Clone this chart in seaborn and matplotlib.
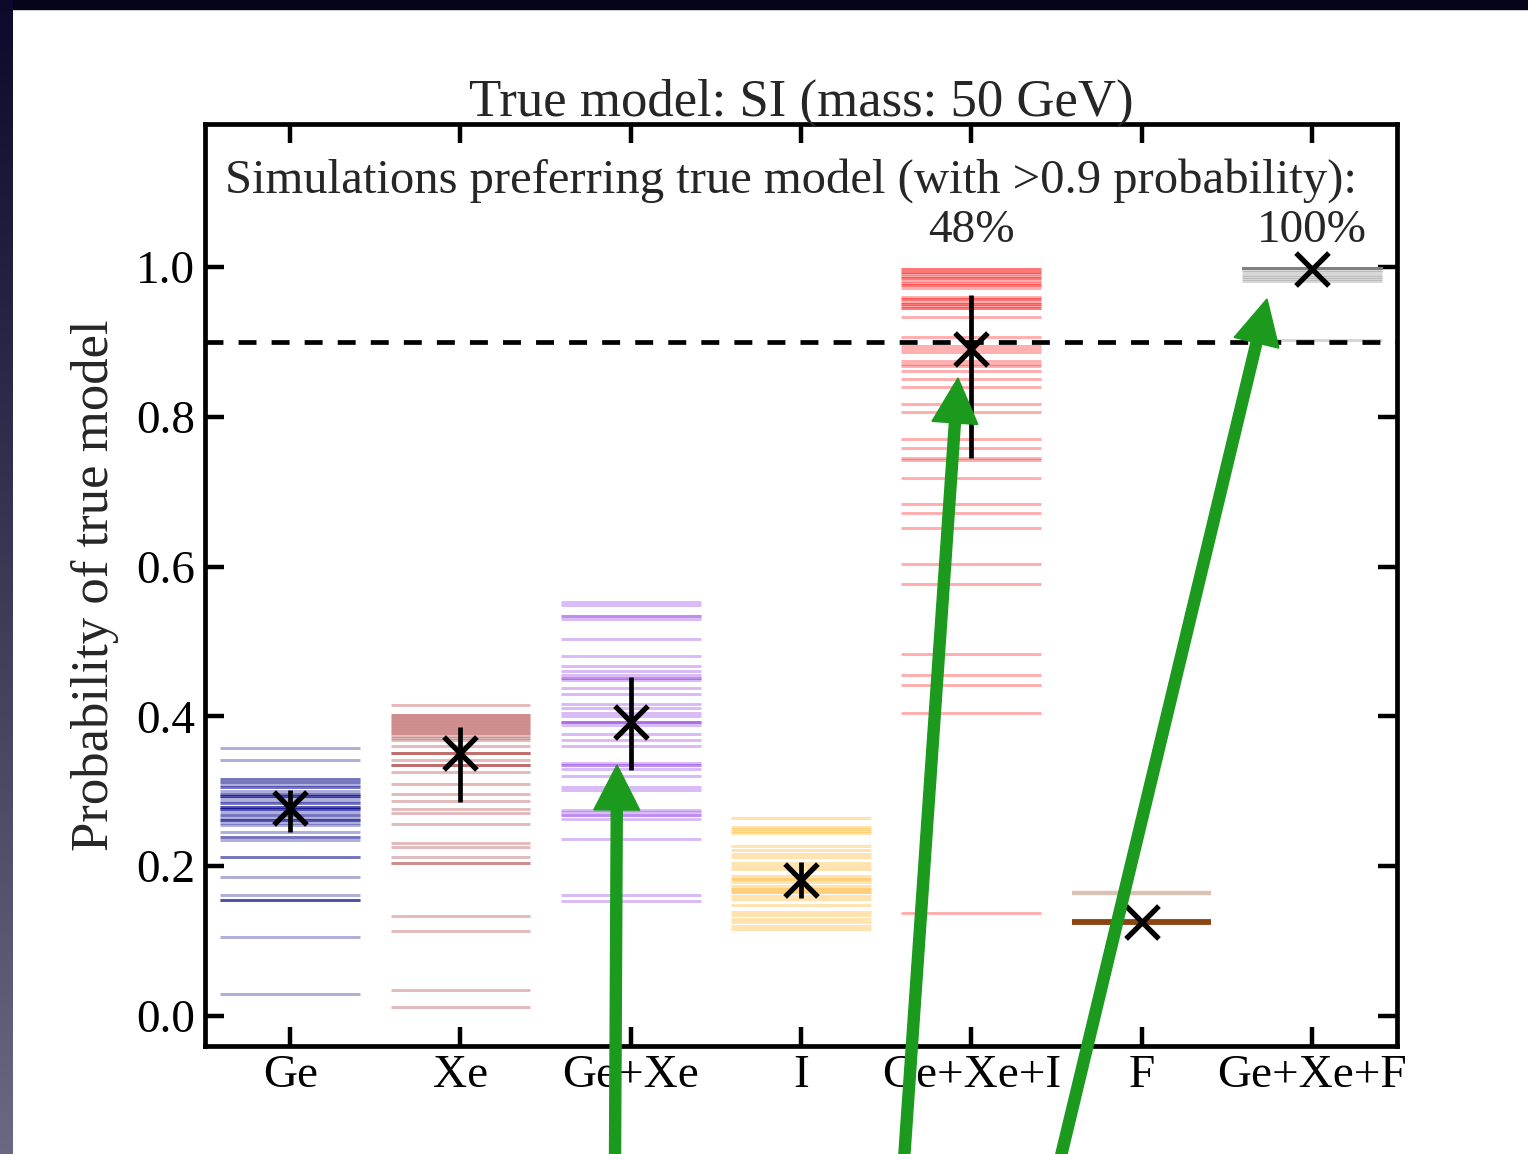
import numpy as np
import pandas as pd
import matplotlib
matplotlib.use("Agg")
import matplotlib.pyplot as plt
from matplotlib.patches import Rectangle, FancyArrow
import seaborn as sns

# ---------------- data ----------------
categories = ["Ge", "Xe", "Ge+Xe", "I", "Ge+Xe+I", "F", "Ge+Xe+F"]
colors = ["darkblue", "brown", "blueviolet", "orange", "red", "saddlebrown", "grey"]

ge_vals = [0.358, 0.342, 0.316, 0.316, 0.313, 0.313, 0.308, 0.306, 0.306, 0.300,
           0.297, 0.297, 0.294, 0.294, 0.294, 0.291, 0.287, 0.284, 0.284, 0.279,
           0.279, 0.279, 0.276, 0.276, 0.276, 0.273, 0.268, 0.268, 0.265, 0.262,
           0.262, 0.262, 0.258, 0.255, 0.246, 0.239, 0.239, 0.235, 0.213, 0.213,
           0.185, 0.161, 0.155, 0.155, 0.155, 0.106, 0.030]
xe_vals = [0.415, 0.402, 0.402, 0.398, 0.398, 0.394, 0.394, 0.390, 0.390, 0.386,
           0.386, 0.382, 0.382, 0.378, 0.378, 0.374, 0.371, 0.368, 0.360, 0.351,
           0.351, 0.351, 0.342, 0.335, 0.335, 0.335, 0.326, 0.310, 0.296, 0.287,
           0.276, 0.271, 0.257, 0.231, 0.226, 0.213, 0.204, 0.204, 0.134, 0.113,
           0.035, 0.012]
gexe_vals = [0.553, 0.549, 0.534, 0.534, 0.530, 0.503, 0.481, 0.468, 0.461, 0.455,
             0.451, 0.451, 0.448, 0.438, 0.430, 0.416, 0.411, 0.404, 0.401, 0.392,
             0.392, 0.392, 0.389, 0.377, 0.369, 0.360, 0.338, 0.335, 0.335, 0.330,
             0.320, 0.306, 0.302, 0.275, 0.272, 0.268, 0.268, 0.263, 0.237, 0.162,
             0.154]
i_vals = [0.264, 0.253, 0.250, 0.247, 0.244, 0.227, 0.222, 0.217, 0.213, 0.204,
          0.200, 0.196, 0.187, 0.183, 0.183, 0.179, 0.173, 0.169, 0.169, 0.165,
          0.165, 0.160, 0.156, 0.148, 0.139, 0.135, 0.130, 0.125, 0.120, 0.116]
gexei_vals = [0.997, 0.997, 0.994, 0.994, 0.991, 0.988, 0.985, 0.985, 0.982, 0.979,
              0.976, 0.976, 0.972, 0.960, 0.957, 0.957, 0.954, 0.951, 0.951, 0.948,
              0.945, 0.945, 0.933, 0.906, 0.894, 0.890, 0.887, 0.874, 0.871, 0.868,
              0.861, 0.850, 0.840, 0.817, 0.807, 0.770, 0.758, 0.745, 0.742, 0.719,
              0.684, 0.672, 0.651, 0.604, 0.577, 0.483, 0.455, 0.442, 0.404, 0.137]
f_vals = [0.164] + [0.125] * 30
gexef_vals = [0.999] * 20 + [0.996, 0.993, 0.990, 0.987, 0.984, 0.982, 0.903]

all_vals = [ge_vals, xe_vals, gexe_vals, i_vals, gexei_vals, f_vals, gexef_vals]

means = [0.278, 0.351, 0.392, 0.182, 0.890, 0.126, 0.998]
err_low = [0.032, 0.065, 0.063, 0.025, 0.145, 0.0, 0.0]
err_high = [0.024, 0.035, 0.061, 0.024, 0.073, 0.0, 0.0]

pct_labels = {4: "48%", 6: "100%"}

# long table of simulations
rows = []
for ci, (cat, vals) in enumerate(zip(categories, all_vals)):
    for v in vals:
        rows.append({"cat": cat, "idx": ci, "prob": v})
sims = pd.DataFrame(rows)
summary = pd.DataFrame({"idx": range(len(categories)), "mean": means})

# ---------------- style ----------------
sns.set_theme(style="ticks")
plt.rcParams["font.family"] = ["Liberation Serif", "DejaVu Serif"]
plt.rcParams["mathtext.fontset"] = "stix"

W, H = 1528, 1154
fig = plt.figure(figsize=(W / 100, H / 100), dpi=100)
fig.patch.set_facecolor("white")

# slide border (dark frame at top and left)
grad_ax = fig.add_axes([0, 0, 13 / W, 1])
grad = np.linspace(0, 1, 256).reshape(-1, 1)
top_c = np.array([0x0b, 0x0a, 0x2a]) / 255
bot_c = np.array([0x6a, 0x68, 0x82]) / 255
img = top_c[None, None, :] * (1 - grad[..., None]) + bot_c[None, None, :] * grad[..., None]
grad_ax.imshow(img, aspect="auto", extent=[0, 1, 0, 1], origin="upper")
grad_ax.axis("off")
fig.add_artist(Rectangle((0, 1 - 9 / H), 1, 9 / H, transform=fig.transFigure,
                         color="#05041a", zorder=0))

ax = fig.add_axes([205 / W, 1 - 1046 / H, (1397 - 205) / W, (1046 - 124) / H])
ax.set_facecolor("white")

half = 0.41
for ci, (cat, col) in enumerate(zip(categories, colors)):
    sub = sims[sims["idx"] == ci]
    lw = 3.2 if cat == "F" else 2.1
    ax.hlines(sub["prob"], ci - half, ci + half, colors=col, alpha=0.32,
              linewidth=lw, zorder=2)

ax.axhline(0.9, color="black", linewidth=3.4, linestyle=(0, (3.8, 3.2)), zorder=3)

ax.errorbar(summary["idx"], summary["mean"], yerr=[err_low, err_high], fmt="none",
            ecolor="black", elinewidth=3.4, capsize=0, zorder=4)
sns.scatterplot(data=summary, x="idx", y="mean", marker="x", s=560, color="black",
                linewidth=3.8, ax=ax, zorder=5, legend=False)

ax.set_xlim(-0.5, 6.5)
ax.set_ylim(-0.04, 1.191)
ax.set_xticks(range(len(categories)))
ax.set_xticklabels(categories)
ax.set_yticks([0.0, 0.2, 0.4, 0.6, 0.8, 1.0])
ax.set_yticklabels(["0.0", "0.2", "0.4", "0.6", "0.8", "1.0"])
ax.set_xlabel("")
ax.set_ylabel("Probability of true model", fontsize=38, labelpad=12)
ax.set_title("True model: SI (mass: 50 GeV)", fontsize=38, pad=6)

ax.tick_params(axis="both", which="major", direction="in", length=14, width=3.2,
               top=True, right=True, labelsize=34, colors="black")
ax.tick_params(axis="y", pad=7)
ax.tick_params(axis="x", pad=6)
for sp in ax.spines.values():
    sp.set_linewidth(3.4)
    sp.set_color("black")
    sp.set_visible(True)

ax.text(2.94, 1.116, "Simulations preferring true model (with >0.9 probability):",
        ha="center", va="center", fontsize=35)
for k, lab in pct_labels.items():
    ax.text(k, 1.049, lab, ha="center", va="center", fontsize=34)

# green arrows overlaid on the slide (pixel coordinates, origin at top-left)
arrows = [((615, 1160), (617, 765)), ((904, 1160), (958, 378)), ((1060, 1160), (1267, 299))]
for (x0, y0), (x1, y1) in arrows:
    sx, sy = x0 / 100, (H - y0) / 100
    ex, ey = x1 / 100, (H - y1) / 100
    fig.add_artist(FancyArrow(sx, sy, ex - sx, ey - sy, width=0.11, head_width=0.46,
                              head_length=0.45, length_includes_head=True,
                              color="#1b9a1d", transform=fig.dpi_scale_trans,
                              zorder=10))

fig.savefig("out.png", dpi=100, facecolor=fig.get_facecolor())
